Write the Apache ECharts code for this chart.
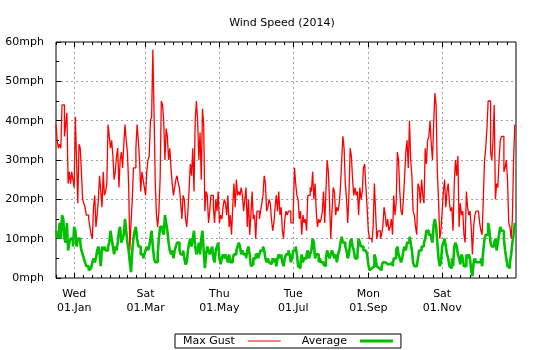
<!DOCTYPE html>
<html>
<head>
<meta charset="utf-8">
<script src="https://cdn.jsdelivr.net/npm/echarts@6/dist/echarts.min.js"></script>
<style>
  html, body { margin: 0; padding: 0; background: #fff; }
  #chart { width: 540px; height: 350px; }
</style>
</head>
<body>
<div id="chart"></div>
<script>
// Days are counted from 01 Jan 2014 (day 0); one reading per day.
const firstDay = -15;   // 17 Dec 2013
const lastDay = 365;    // 01 Jan 2015

// Daily maximum gust (mph)
const maxGust = [
  39,35,33,34,33,44,44,36,39,42, 24,27,24,27,25,23,41,30,19,34,
  33,27,20,19,18,16,16,15,13,11, 10,18,21,13,16,20,26,22,18,27,
  21,22,24,39,36,33,35,31,25,27, 31,33,23,30,32,28,34,39,35,32,
  24,7,14,20,28,
  28,33,39,35,30,22,27,25,23,21, 27,30,31,40,41,58,42,24,16,13,
  17,25,45,44,40,30,38,36,30,33, 28,24,21,23,25,26,24,23,19,15,
  21,20,15,13,17,23,29,26,33,22, 40,45,40,30,37,25,43,39,17,22,
  21,14,17,21,
  21,18,14,20,17,22,14,16,15,18, 20,19,16,21,13,16,11,18,24,18,
  25,21,22,21,23,21,17,20,23,13, 20,11,16,22,15,16,10,17,17,15,
  17,19,21,26,24,17,18,20,19,15, 12,14,18,21,17,22,16,18,12,10,
  15,17,16,17,17,
  14,14,17,28,24,21,20,15,17,11, 16,14,15,12,21,21,23,22,27,20,
  24,17,13,15,14,15,17,22,14,22, 30,27,19,10,17,23,22,16,18,17,
  19,23,30,36,33,24,20,14,21,33, 31,25,21,23,21,22,16,23,20,22,
  28,29,23,18,
  12,10,10,9,13,24,17,10,12,12, 10,11,13,18,16,13,15,12,13,15,
  11,21,16,19,32,30,22,17,16,20, 26,32,35,28,40,30,26,17,16,13,
  11,24,23,19,25,21,19,33,29,35, 36,40,34,30,39,47,44,27,20,10,
  12,17,22,25,18,
  22,24,19,17,18,12,24,30,26,31, 13,19,16,17,11,9,22,18,16,17,
  13,6,13,16,17,17,17,14,12,11, 20,30,33,38,45,45,32,30,35,44,
  20,24,23,30,35,36,36,27,28,30, 25,14,13,10,15,30,39
];

// Daily average wind speed (mph)
const average = [
  12,11,10,14,10,16,15,10,9,14, 7,9,10,10,8,13,12,8,10,10,
  9,7,6,5,4,3,3,2,2.5,3, 4,5,4,5,7,8,6,3,8,7,
  8,7,7,8,9,12,10,8,6,8, 7,9,12,13,9,10,11,15,12,9,
  7,4,1.5,7,10,
  12,13,10,8,8,6,6,5,6,7, 8,7,8,10,12,8,5,4,4,6,
  10,13,13,12,11,16,14,12,9,7, 6,7,5,7,8,9,9,7,6,6,
  7,5,3.4,4,7,9,10,8,10,12, 8,6,7,9,6,10,12,7,2.5,6,
  8,7,6,7,
  8,5,4,7,8,9,5,3.5,5,6, 5,6,5,4,6,4,4,5,6,6,
  7,8,9,8,6,7,6,6,5,7, 8,6,3,3.5,5,5,6,6,5,6,
  7,7,8,7,5,4,5,4,3.5,4, 5,4,5,3,5,6,5,6,4,3,
  5,6,6,7,6,
  4,5,7,7,8,6,3,2.5,4,6, 4,5,5,6,7,5,6,7,10,9,
  5,6,6,4,5,4,4,3.4,3,5, 7,6,5,6,7,6,5,6,4,6,
  7,9,10.5,9,9,8,7,5,6,9, 10,8,7,5,5,6,10,9,8,8,
  7,7,7,6,
  3.5,2,2.5,3,3,6,5,3,2.5,3, 2,3,4,4,4,3.5,4,3.5,4,4,
  3,5,5,7,8,6,5,4,5,7, 8,7,9,9,10.5,9,7,4,3,3,
  2.5,5,7,7,8,8,9,10,12,12, 11,11,10,9,13.5,15,13,9,5,3,
  4,8,9,10,8,
  6,5,3,2.5,5,3,8,9,8,6, 5,3.5,6,5,3,3,6,5,6,5,
  2,0.5,4,5,4,4,4,4,5,3, 7,10,11,11,14,12,9,8,8,9,
  10,7,9,11,13,12,12,10,7,5, 3,2.5,4,6,9,11,14
];

// Month ticks on the time axis (day numbers) and their two-line labels
const monthTickDays = [0, 59, 120, 181, 243, 304];
const weekdayLabels = ['Wed', 'Sat', 'Thu', 'Tue', 'Mon', 'Sat'];
const dateLabels = ['01.Jan', '01.Mar', '01.May', '01.Jul', '01.Sep', '01.Nov'];

// Speed axis
const speedMin = 0, speedMax = 60, speedStep = 10;
const speedUnit = 'mph';

// minor ticks: each two-month span split in 8
const minorSplit = 8;
const minorTickDays = (function () {
  const bounds = monthTickDays.concat([lastDay]);
  const out = [];
  for (let i = 0; i < bounds.length - 1; i++) {
    const step = (bounds[i + 1] - bounds[i]) / minorSplit;
    for (let k = 1; k < minorSplit; k++) out.push(bounds[i] + k * step);
  }
  const firstStep = (bounds[1] - bounds[0]) / minorSplit;
  for (let d = -firstStep; d > firstDay; d -= firstStep) out.push(d);
  return out;
})();

const FONT = 'DejaVu Sans';
const toPoints = arr => arr.map((v, i) => [firstDay + i, v]);

function tickAxis(position, values, len) {
  return {
    type: 'value', min: firstDay, max: lastDay, position: position,
    axisLine: { show: false, onZero: false },
    axisLabel: { show: false },
    splitLine: { show: false },
    axisTick: { show: true, inside: true, length: len, customValues: values,
                lineStyle: { color: '#000', width: 1 } }
  };
}

const chart = echarts.init(document.getElementById('chart'), null, { renderer: 'canvas' });

const mainX = {
  type: 'value', min: firstDay, max: lastDay, position: 'bottom',
  axisLine: { show: false, onZero: false },
  axisTick: { show: true, inside: true, length: 5, customValues: monthTickDays,
              lineStyle: { color: '#000', width: 1 } },
  axisLabel: {
    customValues: monthTickDays,
    formatter: function (v) {
      const i = monthTickDays.indexOf(Math.round(v));
      return i < 0 ? '' : weekdayLabels[i] + '\n' + dateLabels[i];
    },
    margin: 9, lineHeight: 14,
    fontFamily: FONT, fontSize: 11, color: '#000'
  },
  splitLine: { show: true, lineStyle: { color: '#a0a0a0', width: 1, type: [2, 3] } }
};

chart.setOption({
  animation: false,
  backgroundColor: '#fff',
  title: {
    text: 'Wind Speed (2014)',
    left: 277, top: 13, textAlign: 'center',
    textStyle: { fontFamily: FONT, fontSize: 11, fontWeight: 'normal', color: '#000' }
  },
  grid: {
    left: 56, top: 42, width: 460, height: 236,
    show: true, borderColor: '#000', borderWidth: 1, backgroundColor: 'transparent'
  },
  legend: {
    left: 175, top: 334, orient: 'horizontal', align: 'right',
    padding: [1, 8, 1, 8], itemGap: 21,
    borderColor: '#000', borderWidth: 1,
    itemWidth: 33, itemHeight: 3,
    textStyle: { fontFamily: FONT, fontSize: 11, color: '#000', lineHeight: 12, padding: [0, 8, 0, 0] },
    data: [
      { name: 'Max Gust', icon: 'path://M0 0H33V1H0Z' },
      { name: 'Average', icon: 'path://M0 0H33V3H0Z' }
    ]
  },
  xAxis: [
    mainX,
    tickAxis('bottom', minorTickDays, 3),
    tickAxis('top', monthTickDays, 5),
    tickAxis('top', minorTickDays, 3)
  ],
  yAxis: {
    type: 'value', min: speedMin, max: speedMax, interval: speedStep, position: 'left',
    axisLine: { show: false, onZero: false },
    axisTick: { show: true, inside: true, length: 5, lineStyle: { color: '#000' } },
    minorTick: { show: true, splitNumber: 2, length: 3, lineStyle: { color: '#000' } },
    axisLabel: {
      formatter: '{value}' + speedUnit, margin: 12,
      fontFamily: FONT, fontSize: 11, color: '#000'
    },
    splitLine: { show: true, showMinLine: false, showMaxLine: false,
                 lineStyle: { color: '#a0a0a0', width: 1, type: [2, 3] } }
  },
  series: [
    {
      name: 'Max Gust', type: 'line', step: 'end', xAxisIndex: 0,
      data: toPoints(maxGust), symbol: 'none', clip: true,
      itemStyle: { color: '#ff0000' },
      lineStyle: { color: '#ff0000', width: 1.3 }
    },
    {
      name: 'Average', type: 'line', step: 'end', xAxisIndex: 0,
      data: toPoints(average), symbol: 'none', clip: true,
      itemStyle: { color: '#00c000' },
      lineStyle: { color: '#00c000', width: 2.6 }
    }
  ]
});
</script>
</body>
</html>
